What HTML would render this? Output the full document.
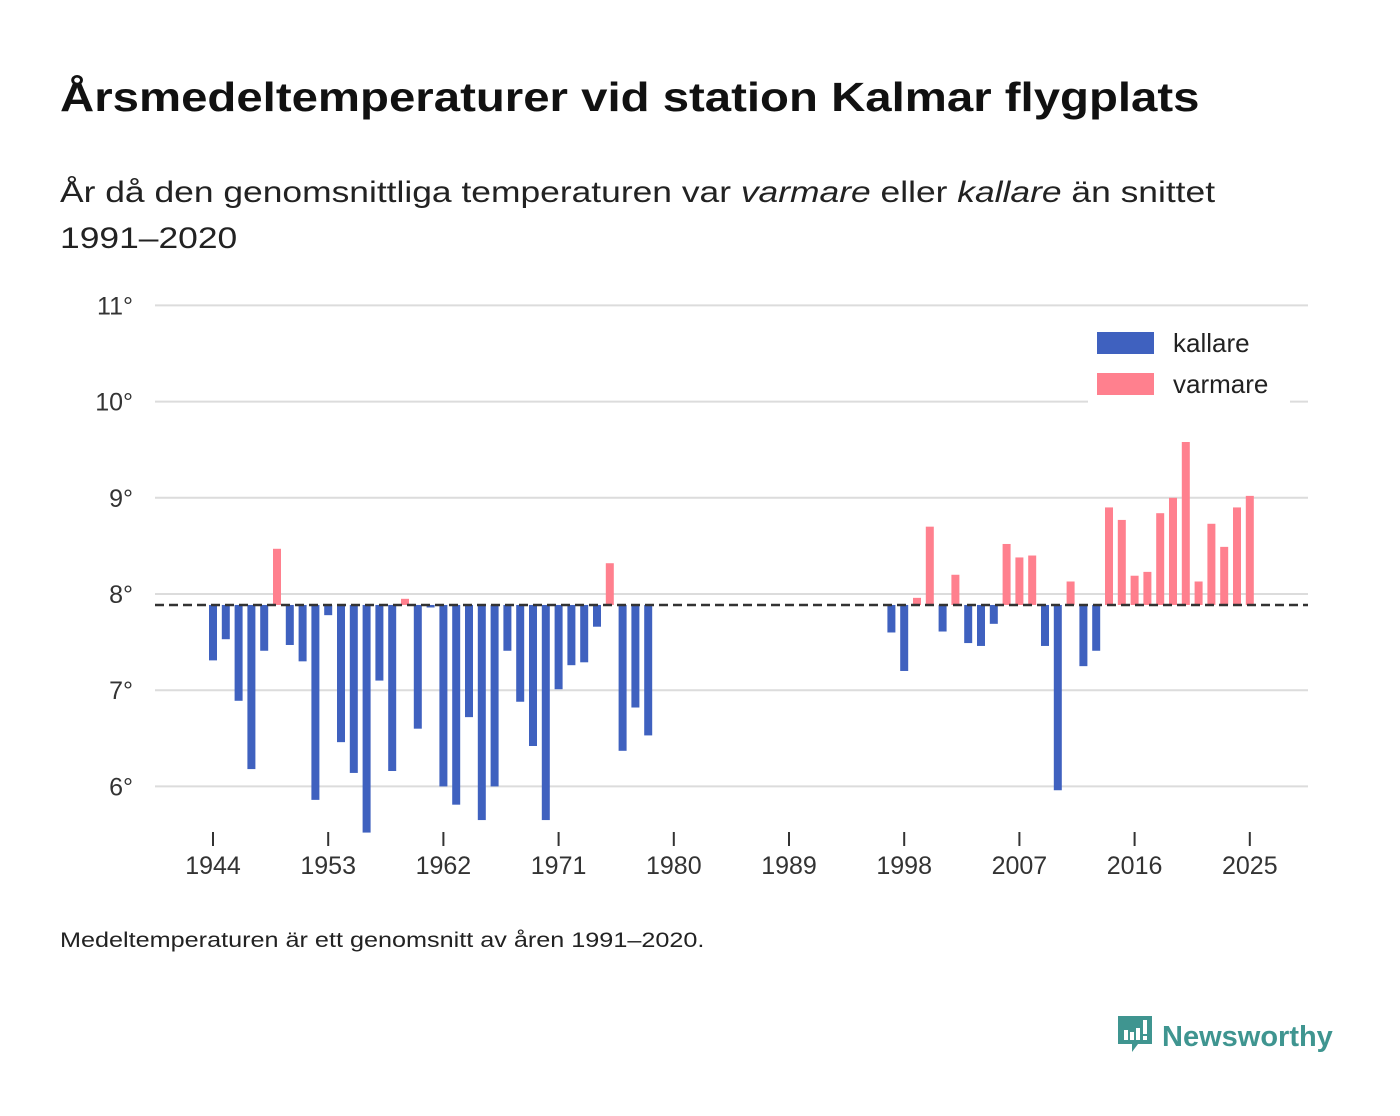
<!DOCTYPE html>
<html><head><meta charset="utf-8">
<style>
body{margin:0;background:#fff;font-family:"Liberation Sans","DejaVu Sans",sans-serif;}
#wrap{position:relative;width:1400px;height:1116px;overflow:hidden;}
h1{position:absolute;left:60px;top:74px;margin:0;font-size:41px;font-weight:bold;color:#111;white-space:nowrap;transform-origin:0 0;transform:scaleX(1.155);}
.sub{position:absolute;left:60px;top:170px;font-size:30px;color:#222;line-height:46px;white-space:nowrap;transform-origin:0 0;transform:scaleX(1.18);}
.foot{position:absolute;left:60px;top:929px;font-size:21px;color:#222;white-space:nowrap;transform-origin:0 0;transform:scaleX(1.2);}
.brand{position:absolute;left:1118px;top:1012px;font-size:29px;font-weight:bold;color:#3f9590;white-space:nowrap;}
</style></head><body>
<div id="wrap">
<h1>Årsmedeltemperaturer vid station Kalmar flygplats</h1>
<div class="sub">År då den genomsnittliga temperaturen var <i>varmare</i> eller <i>kallare</i> än snittet<br>1991–2020</div>
<svg id="chart" width="1400" height="1116" style="position:absolute;left:0;top:0"></svg>
<div class="foot">Medeltemperaturen är ett genomsnitt av åren 1991–2020.</div>
<div class="brand"><svg width="36" height="42" viewBox="0 0 36 42" style="vertical-align:-8px;margin-right:8px"><path d="M0 4h34v28H20l-6 8v-8H0z" fill="#3f9590"/><rect x="6" y="18" width="4" height="10" fill="#fff"/><rect x="12" y="20" width="4" height="8" fill="#fff"/><rect x="18" y="16" width="4" height="12" fill="#fff"/><rect x="25" y="8" width="4" height="14" fill="#fff"/><rect x="25" y="24" width="4" height="4" fill="#fff"/></svg>Newsworthy</div>
</div>
<script>
const years=[1944,1945,1946,1947,1948,1949,1950,1951,1952,1953,1954,1955,1956,1957,1958,1959,1960,1961,1962,1963,1964,1965,1966,1967,1968,1969,1970,1971,1972,1973,1974,1975,1976,1977,1978,1997,1998,1999,2000,2001,2002,2003,2004,2005,2006,2007,2008,2009,2010,2011,2012,2013,2014,2015,2016,2017,2018,2019,2020,2021,2022,2023,2024,2025];
const temps=[7.31,7.53,6.89,6.18,7.41,8.47,7.47,7.30,5.86,7.78,6.46,6.14,5.52,7.10,6.16,7.95,6.60,7.86,6.00,5.81,6.72,5.65,6.00,7.41,6.88,6.42,5.65,7.01,7.26,7.29,7.66,8.32,6.37,6.82,6.53,7.60,7.20,7.96,8.70,7.61,8.20,7.49,7.46,7.69,8.52,8.38,8.40,7.46,5.96,8.13,7.25,7.41,8.90,8.77,8.19,8.23,8.84,9.00,9.58,8.13,8.73,8.49,8.90,9.02];
const mean=7.886;
const yTicks=[6,7,8,9,10,11];
const xTicks=[1944,1953,1962,1971,1980,1989,1998,2007,2016,2025];
const svg=document.getElementById('chart');
const NS='http://www.w3.org/2000/svg';
const y=v=>594-(v-8)*96.2;
const x=yr=>213+(yr-1944)*12.8;
function mk(tag,attrs){const e=document.createElementNS(NS,tag);for(const k in attrs)e.setAttribute(k,attrs[k]);svg.appendChild(e);return e;}
yTicks.forEach(t=>{
 const l=mk('line',{x1:155,x2:1308,y1:y(t),y2:y(t),stroke:'#dcdcdc','stroke-width':2});
 
 
 const tx=mk('text',{x:133,y:y(t)+9,'text-anchor':'end','font-size':25,fill:'#333','font-family':'Liberation Sans, sans-serif'});
 tx.textContent=t+'°';
 
 
});
xTicks.forEach(t=>{
 const l=mk('line',{x1:x(t),x2:x(t),y1:832,y2:846,stroke:'#333','stroke-width':2});
 
 
 const tx=mk('text',{x:x(t),y:874,'text-anchor':'middle','font-size':25,fill:'#333','font-family':'Liberation Sans, sans-serif'});
 tx.textContent=t;
 
 
});
years.forEach((yr,i)=>{
 const v=temps[i];const warm=v>mean;
 const top=warm?y(v):y(mean);const h=Math.abs(y(v)-y(mean));
 const r=mk('rect',{x:x(yr)-4,y:top,width:8,height:Math.max(h,1),fill:warm?'#ff808e':'#3f61bf'});
 
 
});
const ml=mk('line',{x1:155,x2:1308,y1:y(mean),y2:y(mean),stroke:'#333','stroke-width':2.5,'stroke-dasharray':'9,5'});


const lb=mk('rect',{x:1088,y:322,width:202,height:82,fill:'#fff'});


[['kallare','#3f61bf',343],['varmare','#ff808e',384]].forEach(([n,c,cy])=>{
 const s=mk('rect',{x:1097,y:cy-11,width:57,height:22,fill:c});
 
 
 const t=mk('text',{x:1173,y:cy+9,'font-size':26,fill:'#222','font-family':'Liberation Sans, sans-serif'});
 t.textContent=n;
 
 
});
</script>
</body></html>
